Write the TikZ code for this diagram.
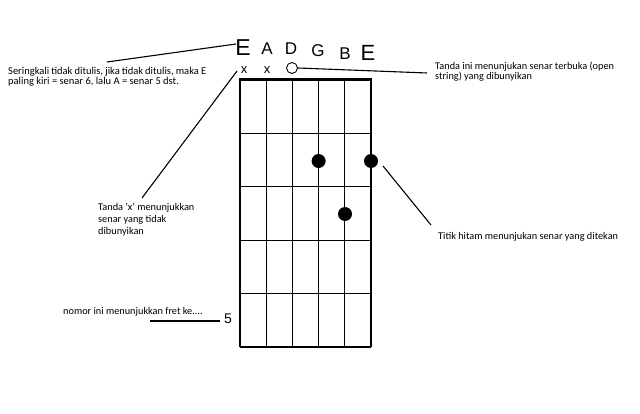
\documentclass[tikz,border=0pt]{standalone}
\usepackage{fontspec}
\setmainfont{Carlito}
\newfontfamily\arialfont{Liberation Sans}
\usepackage{tikz}

\begin{document}
\begin{tikzpicture}[x=1pt, y=-1pt,
		note/.style={font=\fontsize{10.3}{10}\selectfont, align=left, anchor=north west, inner sep=0pt},
		tuning/.style={font=\arialfont, anchor=base, inner sep=0pt},
		pressed/.style={circle, fill=black, minimum size=14pt, inner sep=0pt},
		pointer/.style={black, line width=1.1pt}]
	\useasboundingbox[fill=white] (0,0) rectangle (640,414);
	% string names
	\begin{scope}
		\node[tuning, font=\arialfont\fontsize{23}{23}\selectfont] (lowE) at (243,56) {E};
		\node[tuning, font=\arialfont\fontsize{17}{17}\selectfont] (strA) at (267,55) {A};
		\node[tuning, font=\arialfont\fontsize{17}{17}\selectfont] (strD) at (291,55) {D};
		\node[tuning, font=\arialfont\fontsize{17}{17}\selectfont] (strG) at (318,57) {G};
		\node[tuning, font=\arialfont\fontsize{17}{17}\selectfont] (strB) at (345,60) {B};
		\node[tuning, font=\arialfont\fontsize{22}{22}\selectfont] (highE) at (368,61) {E};
	\end{scope}
	% muted and open strings
	\begin{scope}
		\node[tuning, font=\arialfont\fontsize{13}{13}\selectfont] (muteE) at (244,74) {x};
		\node[tuning, font=\arialfont\fontsize{13}{13}\selectfont] (muteA) at (267,74) {x};
		\node[circle, draw, line width=0.9pt, minimum size=11pt, inner sep=0pt] (open) at (292,68) {};
	\end{scope}
	% fretboard
	\begin{scope}
		\foreach \i in {0,...,5}
			\draw[line width=1.2pt] (240+26.2*\i,80) -- (240+26.2*\i,347);
		\foreach \j in {1,...,5}
			\draw[line width=1.2pt] (240,80+53.4*\j) -- (371,80+53.4*\j);
		\draw[line width=3pt] (239.4,80) -- (371.6,80);
	\end{scope}
	% pressed notes
	\node[pressed] (dotG) at (318.6,161) {};
	\node[pressed] (dotE) at (371,161) {};
	\node[pressed] (dotB) at (345,214) {};
	\node[tuning, font=\arialfont\fontsize{14}{14}\selectfont] (fretno) at (228,323) {5};
	% notes
	\node[note, font=\fontsize{10.5}{10}\selectfont] (namesnote) at (8,67.5) {\makebox[198pt][s]{Seringkali tidak ditulis, jika tidak ditulis, maka E}\\paling kiri = senar 6, lalu A = senar 5 dst.};
	\node[note] (opennote) at (435,62) {Tanda ini menunjukan senar terbuka (open\\string) yang dibunyikan};
	\node[note, font=\fontsize{10.3}{12.2}\selectfont] (mutenote) at (98,203) {Tanda 'x' menunjukkan\\senar yang tidak\\dibunyikan};
	\node[note] (dotnote) at (438,232.5) {Titik hitam menunjukan senar yang ditekan};
	\node[note] (fretnote) at (63,307) {nomor ini menunjukkan fret ke....};
	% pointers
	\coordinate (namesfrom) at (107,62);
	\coordinate (namesto) at (236,44);
	\coordinate (opento) at (427,73);
	\coordinate (mutefrom) at (237,71);
	\coordinate (muteto) at (142,198);
	\coordinate (dotfrom) at (383,166);
	\coordinate (dotto) at (431,225);
	\coordinate (fretfrom) at (150,321);
	\coordinate (fretto) at (220,321);
	\draw[pointer]
		(namesfrom) -- (namesto)
		(open.east) -- (opento)
		(mutefrom) -- (muteto)
		(dotfrom) -- (dotto);
	\draw[pointer, line width=1.4pt] (fretfrom) -- (fretto);
\end{tikzpicture}
\end{document}
